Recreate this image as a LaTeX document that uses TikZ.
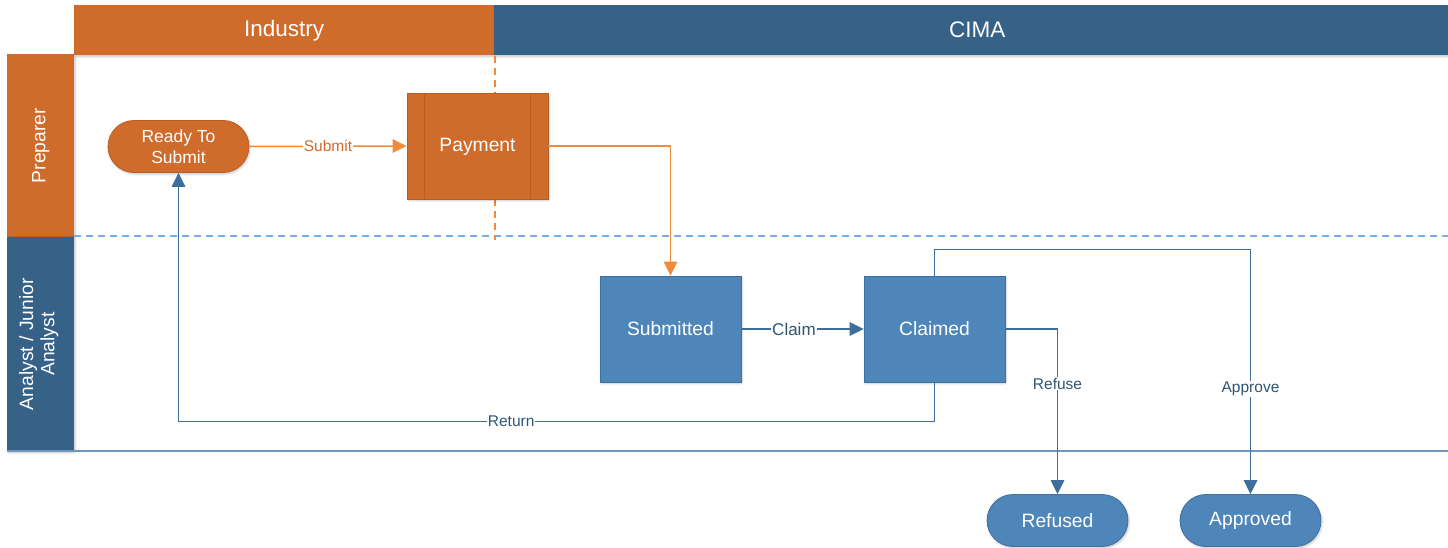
\documentclass[tikz,border=0pt]{standalone}
\usepackage{fontspec}
\setmainfont{Liberation Sans}
\usetikzlibrary{arrows.meta,shadows.blur}

\definecolor{indorange}{HTML}{CF6B2B}
\definecolor{indedge}{HTML}{B85D22}
\definecolor{flowor}{HTML}{F08A3C}
\definecolor{cimablue}{HTML}{366288}
\definecolor{nodeblue}{HTML}{4E86B9}
\definecolor{nodeedge}{HTML}{3F6F9C}
\definecolor{linkblue}{HTML}{3F6E9A}
\definecolor{lblblue}{HTML}{2F5575}
\definecolor{dashblue}{HTML}{7BAEE0}
\definecolor{rulblue}{HTML}{6E96BE}

\tikzset{
  fs/.style={font=\fontsize{#1}{#1}\selectfont},
  softshadow/.style={blur shadow={shadow blur steps=6, shadow xshift=1pt,
      shadow yshift=-1.5pt, shadow opacity=22, shadow blur extra rounding=1pt}},
  bandhead/.style={draw=none, anchor=north west, inner sep=0pt, text=white,
      fs=22.5, softshadow},
  lanehead/.style={draw=none, anchor=north west, inner sep=0pt, softshadow},
  procbox/.style={rectangle, minimum width=141pt, minimum height=106pt,
      inner sep=0pt, text=white, fs=19.3, softshadow},
  bluebox/.style={procbox, fill=nodeblue, draw=nodeedge, line width=0.8pt},
  orangebox/.style={procbox, fill=indorange, draw=indedge, line width=0.8pt},
  pill/.style={rectangle, rounded corners=26pt, minimum width=141pt,
      minimum height=52pt, inner sep=0pt, text=white, fs=19.3, softshadow,
      line width=0.8pt, align=center},
  orangeflow/.style={draw=flowor, line width=1.5pt,
      -{Triangle[length=14pt,width=13.5pt]}},
  blueflow/.style={draw=linkblue, line width=1.5pt,
      -{Triangle[length=14pt,width=13.5pt]}},
  edgelbl/.style={fill=white, inner sep=1pt, text=lblblue, fs=15.5},
}

\begin{document}
\begin{tikzpicture}[x=1pt,y=-1pt]
  \useasboundingbox (0,0) rectangle (1448,548);

  % column headers
  \node[bandhead, fill=indorange, minimum width=420pt, minimum height=50pt]
    (hind) at (74,5) {};
  \node[text=white, fs=22.5] (tind) at (hind.center) {Industry};
  \node[bandhead, fill=cimablue, minimum width=954pt, minimum height=50pt]
    (hcima) at (494,5) {};
  \node[text=white, fs=22.5] (tcima) at ([xshift=6pt]hcima.center) {CIMA};

  % lane headers
  \node[lanehead, fill=indorange, minimum width=67pt, minimum height=183pt]
    (lprep) at (7,54) {};
  \node[rotate=90, text=white, fs=19.3] (tprep) at (lprep.center) {Preparer};
  \node[lanehead, fill=cimablue, minimum width=67pt, minimum height=214pt]
    (lana) at (7,237) {};
  \node[rotate=90, text=white, fs=19.3, align=center, inner sep=0pt]
    (tana) at ([xshift=-2pt]lana.center) {Analyst / Junior\\[2pt]Analyst};

  % lane separators
  \draw[dashblue, line width=1.5pt, dash pattern=on 7pt off 5pt]
    (74,236) -- (1448,236);
  \draw[rulblue, line width=1.5pt] (7,451) -- (1448,451);
  \draw[flowor, line width=1.3pt, dash pattern=on 7pt off 5pt]
    (495,56) -- (495,93);
  \draw[flowor, line width=1.3pt, dash pattern=on 7pt off 5pt]
    (495,199) -- (495,240);

  % process nodes
  \node[pill, fill=indorange, draw=indedge, fs=17.5] (rts) at (178.5,146.5)
    {Ready To\\[4pt]Submit};
  \node[orangebox, text depth=0pt, text height=11pt] (pay) at (477.5,146) {Payment};
  \draw[indedge, line width=0.8pt]
    ([xshift=18pt]pay.north west) -- ([xshift=18pt]pay.south west)
    ([xshift=-18pt]pay.north east) -- ([xshift=-18pt]pay.south east);
  \node[bluebox] (sub) at (670.5,329) {Submitted};
  \node[bluebox] (clm) at (934.5,329) {Claimed};
  \node[pill, fill=nodeblue, draw=nodeedge] (ref) at (1057.5,520.5) {Refused};
  \node[pill, fill=nodeblue, draw=nodeedge] (app) at (1250.5,520.5) {Approved};

  % transitions
  \draw[orangeflow] (rts.east) -- node[edgelbl, text=indorange]{Submit} (pay.west);
  \draw[orangeflow] (pay.east) -| (sub.north);
  \draw[blueflow] (sub.east) -- node[edgelbl, pos=0.43, fs=17]{Claim} (clm.west);
  \draw[blueflow] (clm.east) -| node[edgelbl, pos=0.665]{Refuse} (ref.north);
  \draw[blueflow] (clm.north) -- ++(0,-26) -| node[edgelbl, pos=0.785]{Approve}
    (app.north);
  \draw[blueflow] (clm.south) -- ++(0,39) -| node[edgelbl, pos=0.28]{Return}
    (rts.south);
\end{tikzpicture}
\end{document}
